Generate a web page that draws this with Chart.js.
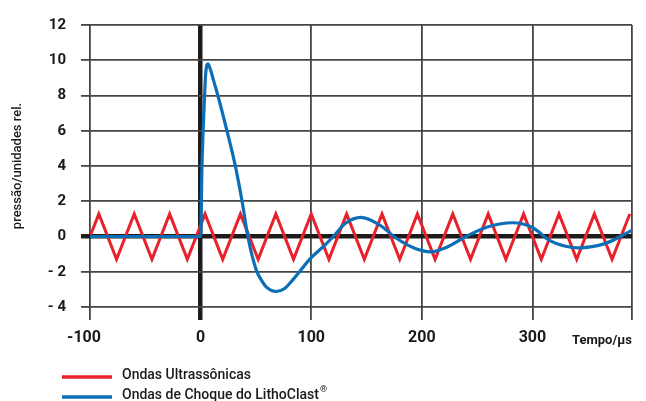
<!DOCTYPE html>
<html>
<head>
<meta charset="utf-8">
<script src="https://cdn.jsdelivr.net/npm/chart.js@4.4.0/dist/chart.umd.min.js"></script>
<style>
html, body { margin: 0; padding: 0; background: #fff; }
</style>
</head>
<body>
<canvas id="waveChart" width="646" height="401"></canvas>
<script>
// Ondas ultrassônicas (zig-zag)
var ultraX = [-100, -92, -76, -60, -44, -28, -12, 4, 20, 36, 52, 68, 84, 100, 116, 132,
              148, 164, 180, 196, 212, 228, 244, 260, 276, 292, 308, 324, 340, 356, 372, 388];
var ultraY = [0, 1.28, -1.3, 1.28, -1.3, 1.28, -1.3, 1.28, -1.3, 1.28, -1.3, 1.28, -1.3, 1.28, -1.3, 1.28,
              -1.3, 1.28, -1.3, 1.28, -1.3, 1.28, -1.3, 1.28, -1.3, 1.28, -1.3, 1.28, -1.3, 1.28, -1.3, 1.28];

// Ondas de choque do LithoClast
var shockX = [-100, 0, 1.2, 3.6, 4.6, 6.6, 9, 11.5, 15.6, 23.8, 31.6, 37.6, 42.7, 50.3, 54.8, 60, 68.3, 76, 83.3,
              100, 113, 120, 131, 145, 162, 177, 193, 208, 222, 240, 260, 282, 300, 315, 330, 342, 366, 390];
var shockY = [0, 0, 3.9, 8.0, 9.25, 9.8, 9.45, 8.9, 8.0, 6.0, 3.94, 1.96, 0, -1.9, -2.46, -2.9, -3.12, -2.95, -2.46,
              -1.2, -0.45, 0, 0.75, 1.08, 0.64, -0.1, -0.65, -0.87, -0.62, 0, 0.55, 0.78, 0.51, -0.2, -0.55, -0.64, -0.39, 0.35];

var xTicks = [-100, 0, 100, 200, 300, 390];
var seriesNames = ['Ondas Ultrassônicas', 'Ondas de Choque do LithoClast®'];
var xAxisLabel = 'Tempo/µs';
var yAxisLabel = 'pressão/unidades rel.';

function toPoints(xs, ys) {
    return xs.map(function (x, i) { return { x: x, y: ys[i] }; });
}

function fmt(v) {
    return v < 0 ? '- ' + Math.abs(v) : String(v);
}

function gridColor(c) {
    return c.tick && c.tick.value === 0 ? '#1c1c1c' : '#454545';
}
function gridWidth(c) {
    return c.tick && c.tick.value === 0 ? 4.5 : 1.8;
}

// legenda empilhada + rótulo do eixo x
var extras = {
    id: 'extras',
    afterDraw: function (chart) {
        var ctx = chart.ctx;
        ctx.save();
        ctx.font = 'bold 13px Roboto';
        ctx.fillStyle = '#1a1a1a';
        ctx.textAlign = 'left';
        ctx.textBaseline = 'middle';
        ctx.fillText(xAxisLabel, chart.chartArea.right - 60, 341);

        chart.data.datasets.forEach(function (ds, i) {
            var y = 377 + i * 20;
            ctx.strokeStyle = ds.borderColor;
            ctx.lineWidth = 3.5;
            ctx.beginPath();
            ctx.moveTo(62, y);
            ctx.lineTo(112, y);
            ctx.stroke();
            var txt = ds.label;
            var sup = '';
            if (txt.slice(-1) === '®') { sup = '®'; txt = txt.slice(0, -1); }
            ctx.font = '500 14px Roboto';
            ctx.fillText(txt, 122, y - 2);
            if (sup) {
                var w = ctx.measureText(txt).width;
                ctx.font = '500 9px Roboto';
                ctx.fillText(sup, 123 + w, y - 7);
            }
        });
        ctx.restore();
    }
};

var ctx = document.getElementById('waveChart').getContext('2d');

var waveChart = new Chart(ctx, {
    type: 'line',
    data: {
        datasets: [{
            label: seriesNames[0],
            data: toPoints(ultraX, ultraY),
            borderColor: '#e8212b',
            borderWidth: 3,
            tension: 0,
            pointRadius: 0,
            order: 1
        }, {
            label: seriesNames[1],
            data: toPoints(shockX, shockY),
            borderColor: '#0b6fb8',
            borderWidth: 3.2,
            cubicInterpolationMode: 'monotone',
            pointRadius: 0,
            order: 0
        }]
    },
    options: {
        responsive: false,
        animation: false,
        layout: { padding: { left: 0, right: 14, top: 25, bottom: 54 } },
        plugins: {
            legend: { display: false },
            tooltip: { enabled: false }
        },
        scales: {
            x: {
                type: 'linear',
                min: -100,
                max: 390,
                afterBuildTicks: function (scale) {
                    scale.ticks = xTicks.map(function (v) { return { value: v }; });
                },
                afterFit: function (scale) { scale.height = 40; },
                border: { display: false },
                grid: { color: gridColor, lineWidth: gridWidth, tickLength: 13 },
                ticks: {
                    padding: 8,
                    maxRotation: 0,
                    color: '#1a1a1a',
                    font: { family: 'Roboto', size: 16, weight: 'bold' },
                    callback: function (v) {
                        if (v === 390) return '';
                        // o "-100" original fica deslocado para a esquerda
                        return v < 0 ? '-' + Math.abs(v) + '   ' : fmt(v);
                    }
                }
            },
            y: {
                min: -4,
                max: 12,
                afterFit: function (scale) { scale.width = 90; },
                border: { display: false },
                grid: { color: gridColor, lineWidth: gridWidth, tickLength: 9 },
                ticks: {
                    stepSize: 2,
                    padding: 15,
                    color: '#1a1a1a',
                    font: { family: 'Roboto', size: 15, weight: 'bold' },
                    callback: function (v) { return fmt(v); }
                },
                title: {
                    display: true,
                    text: yAxisLabel,
                    color: '#1a1a1a',
                    padding: { top: 10, bottom: 0 },
                    font: { family: 'Roboto', size: 13, weight: '500' }
                }
            }
        }
    },
    plugins: [extras]
});
</script>
</body>
</html>
